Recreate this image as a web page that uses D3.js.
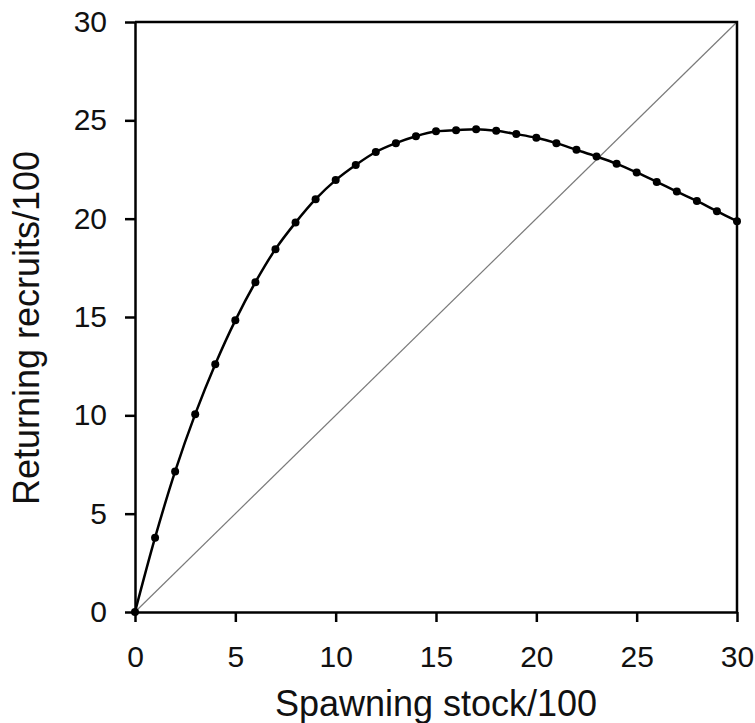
<html>
  <head>
    <meta charset="utf-8" />
    <script src="https://cdnjs.cloudflare.com/ajax/libs/d3/7.6.1/d3.min.js"></script>
    <style>
      body {
        margin: 0;
        background: #fff;
      }
      svg {
        font-family: "Liberation Sans", Arial, sans-serif;
      }
    </style>
  </head>
  <body>
    <svg width="755" height="723"></svg>
  </body>

  <script>
    // spawning stock (x) and returning recruits (y), both /100
    const stock = [
      0, 1, 2, 3, 4, 5, 6, 7, 8, 9, 10, 11, 12, 13, 14, 15, 16, 17, 18, 19, 20,
      21, 22, 23, 24, 25, 26, 27, 28, 29, 30,
    ];
    const recruits = [
      0, 3.78, 7.15, 10.06, 12.6, 14.83, 16.77, 18.45, 19.8, 20.99, 21.96,
      22.73, 23.39, 23.84, 24.19, 24.44, 24.5, 24.55, 24.47, 24.3, 24.11, 23.84,
      23.5, 23.16, 22.79, 22.35, 21.87, 21.38, 20.9, 20.38, 19.87,
    ];
    const xTicks = [0, 5, 10, 15, 20, 25, 30];
    const yTicks = [0, 5, 10, 15, 20, 25, 30];
    const replacement = [0, 30];

    const svg = d3.select("svg");
    const xScale = d3.scaleLinear().domain([0, 30]).range([135, 737]);
    const yScale = d3.scaleLinear().domain([0, 30]).range([612, 22]);

    // replacement line (recruits = stock)
    svg
      .append("line")
      .attr("x1", xScale(replacement[0]))
      .attr("y1", yScale(replacement[0]))
      .attr("x2", xScale(replacement[1]))
      .attr("y2", yScale(replacement[1]))
      .attr("stroke", "#7a7a7a")
      .attr("stroke-width", 1.2);

    // frame top and right
    svg
      .append("path")
      .attr("d", `M${xScale(0)},${yScale(30)}H${xScale(30)}V${yScale(0)}`)
      .attr("fill", "none")
      .attr("stroke", "#000")
      .attr("stroke-width", 2.5);

    const xAxis = d3
      .axisBottom(xScale)
      .tickValues(xTicks)
      .tickSize(10)
      .tickSizeOuter(0)
      .tickPadding(24);
    const xAxisG = svg
      .append("g")
      .attr("transform", `translate(0,${yScale(0)})`)
      .call(xAxis);

    const yAxis = d3
      .axisLeft(yScale)
      .tickValues(yTicks)
      .tickSize(10)
      .tickSizeOuter(0)
      .tickPadding(18);
    const yAxisG = svg
      .append("g")
      .attr("transform", `translate(${xScale(0)},0)`)
      .call(yAxis);

    [xAxisG, yAxisG].forEach((g) => {
      g.select(".domain").attr("stroke-width", 2.5);
      g.selectAll(".tick line").attr("stroke-width", 2.5);
      g.selectAll(".tick text")
        .attr("font-size", 30)
        .attr("font-family", "'Liberation Sans', Arial, sans-serif")
        .attr("fill", "#111");
    });

    const points = stock.map((s, i) => [s, recruits[i]]);

    const line = d3
      .line()
      .x((d) => xScale(d[0]))
      .y((d) => yScale(d[1]))
      .curve(d3.curveCatmullRom);
    svg
      .append("path")
      .attr("d", line(points))
      .attr("fill", "none")
      .attr("stroke", "#000")
      .attr("stroke-width", 2.5);

    svg
      .selectAll("circle")
      .data(points)
      .join("circle")
      .attr("cx", (d) => xScale(d[0]))
      .attr("cy", (d) => yScale(d[1]))
      .attr("r", 4)
      .attr("fill", "#000");

    svg
      .append("text")
      .attr("x", (xScale(0) + xScale(30)) / 2)
      .attr("y", 716)
      .attr("text-anchor", "middle")
      .attr("font-size", 36)
      .attr("fill", "#111")
      .text("Spawning stock/100");

    svg
      .append("text")
      .attr("transform", "translate(39,328) rotate(-90)")
      .attr("text-anchor", "middle")
      .attr("font-size", 36)
      .attr("fill", "#111")
      .text("Returning recruits/100");
  </script>
</html>
